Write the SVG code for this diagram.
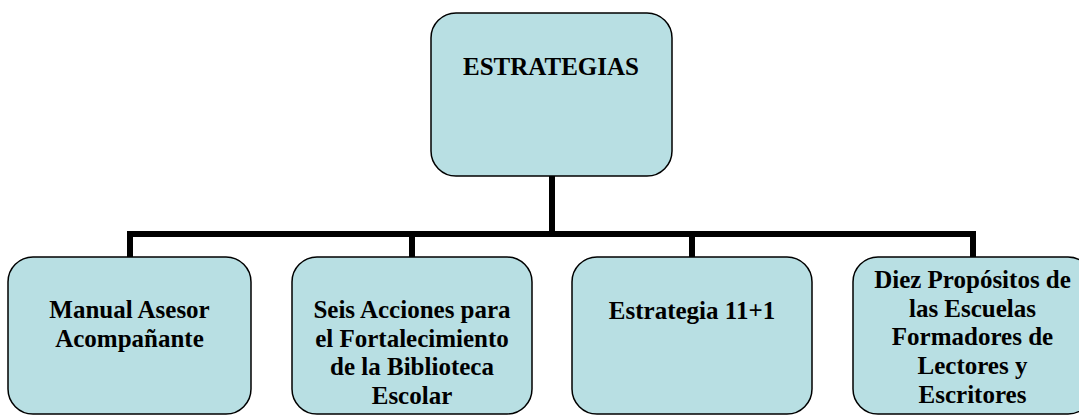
<svg xmlns="http://www.w3.org/2000/svg" width="1079" height="416" viewBox="0 0 1079 416">
<style>
.box{fill:#B8DFE3;stroke:#000;stroke-width:1.5}
.t{font-family:"Liberation Serif","Times New Roman",serif;font-weight:bold;font-size:25px;fill:#000;text-anchor:middle}
.c{stroke:#000;stroke-width:6;fill:none}
</style>
<rect width="1079" height="416" fill="#fff"/>
<g id="connectors">
<line class="c" x1="552" y1="176" x2="552" y2="234"/>
<line class="c" x1="127" y1="234" x2="976" y2="234"/>
<line class="c" x1="130" y1="231" x2="130" y2="257"/>
<line class="c" x1="412" y1="234" x2="412" y2="257"/>
<line class="c" x1="692" y1="234" x2="692" y2="257"/>
<line class="c" x1="973" y1="231" x2="973" y2="257"/>
</g>
<g id="n0">
<rect class="box" x="431" y="13" width="241" height="163" rx="25"/>
<text class="t" x="551" y="75">ESTRATEGIAS</text>
</g>
<g id="n1">
<rect class="box" x="8" y="257" width="243" height="157" rx="25"/>
<text class="t" x="129.5" y="318">Manual Asesor</text>
<text class="t" x="129.5" y="347">Acompañante</text>
</g>
<g id="n2">
<rect class="box" x="292" y="257" width="240" height="157" rx="25"/>
<text class="t" x="412" y="318">Seis Acciones para</text>
<text class="t" x="412" y="347">el Fortalecimiento</text>
<text class="t" x="412" y="375">de la Biblioteca</text>
<text class="t" x="412" y="404">Escolar</text>
</g>
<g id="n3">
<rect class="box" x="572" y="257" width="240" height="157" rx="25"/>
<text class="t" x="692" y="319">Estrategia 11+1</text>
</g>
<g id="n4">
<rect class="box" x="853" y="257" width="240" height="157" rx="25"/>
<text class="t" x="972.5" y="288">Diez Propósitos de</text>
<text class="t" x="972.5" y="316.5">las Escuelas</text>
<text class="t" x="972.5" y="345">Formadores de</text>
<text class="t" x="972.5" y="374">Lectores y</text>
<text class="t" x="972.5" y="403">Escritores</text>
</g>
</svg>
